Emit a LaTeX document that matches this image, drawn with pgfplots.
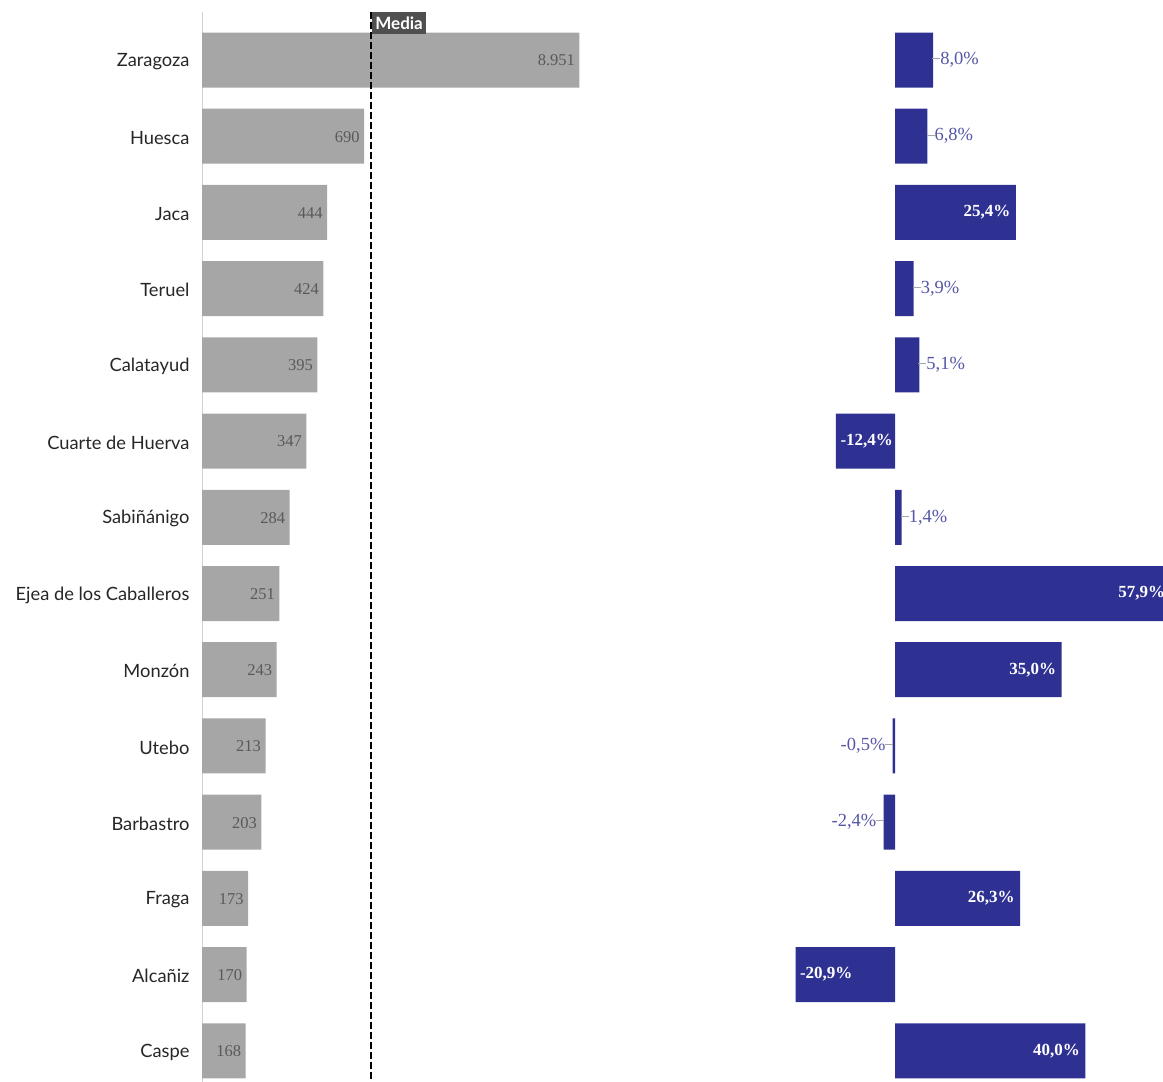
\documentclass[border=0pt]{standalone}
\usepackage{pgfplots}
\pgfplotsset{compat=1.18}
\usepackage{fontspec}
\setmainfont{Lato}
\newfontfamily\numfont{Liberation Serif}
\definecolor{bargray}{HTML}{A6A6A6}
\definecolor{barblue}{HTML}{2E3192}
\definecolor{lblblue}{HTML}{5656A8}
\definecolor{medbox}{HTML}{4F4F4F}
% short grey leader between small bars and their labels
\newcommand\lead{\textcolor{gray!70}{\rule[0.3em]{8pt}{0.9pt}}}

\begin{document}
\begin{tikzpicture}
\path[use as bounding box] (0,0) rectangle (1163pt,-1082pt);

% left panel: absolute numbers, log scale
\begin{axis}[
  at={(202pt,-12pt)}, anchor=north west,
  scale only axis, width=386.8pt, height=1070pt,
  xmode=log, log origin=infty, xmin=100, xmax=10000,
  ymin=-0.63, ymax=13.41, y dir=reverse,
  xbar, bar width=55pt, bar shift=0pt,
  axis x line=none, axis y line=left,
  y axis line style={-, draw=gray!35, line width=1pt},
  ytick={0,...,13}, major tick length=0pt,
  yticklabels={Zaragoza, Huesca, Jaca, Teruel, Calatayud, Cuarte de Huerva,
    Sabiñánigo, Ejea de los Caballeros, Monzón, Utebo, Barbastro, Fraga,
    Alcañiz, Caspe},
  yticklabel style={font=\fontsize{18.3}{21}\selectfont, text=black!85,
    xshift=-9pt, yshift=-1.5pt},
  clip mode=individual,
  point meta=explicit symbolic,
  nodes near coords,
  nodes near coords style={anchor=east, xshift=-1pt, yshift=-0.5pt,
    font=\numfont\fontsize{16.5}{18}\selectfont, text=black!65},
]
\addplot[draw=none, fill=bargray] coordinates {
  (8951,0) [8.951] (690,1) [690] (444,2) [444] (424,3) [424] (395,4) [395]
  (347,5) [347] (284,6) [284] (251,7) [251] (243,8) [243] (213,9) [213]
  (203,10) [203] (173,11) [173] (170,12) [170] (168,13) [168]};
% media reference line
\draw[black, line width=1.8pt, dash pattern=on 7pt off 3pt]
  (axis cs:745,-0.63) -- (axis cs:745,13.41);
\node[fill=medbox, text=white, anchor=north west, inner xsep=3.5pt, inner ysep=4.5pt,
  xshift=1pt, font=\bfseries\fontsize{17}{19}\selectfont]
  at (axis cs:745,-0.63) {Media};
\end{axis}

% right panel: variation in %
\begin{axis}[
  at={(776pt,-12pt)}, anchor=north west,
  scale only axis, width=394.6pt, height=1070pt,
  xmin=-25, xmax=57.9,
  ymin=-0.63, ymax=13.41, y dir=reverse,
  xbar, bar width=55pt, bar shift=0pt,
  hide axis, clip=false,
  point meta=explicit symbolic,
  nodes near coords,
]
% big positive: white label inside, right end
\addplot[draw=none, fill=barblue, nodes near coords style={anchor=east, xshift=-2pt,
    font=\numfont\bfseries\fontsize{17}{19}\selectfont, text=white}] coordinates {
  (25.4,2) [25,4\%] (57.9,7) [57,9\%] (35.0,8) [35,0\%] (26.3,11) [26,3\%] (40.0,13) [40,0\%]};
% big negative: white label inside, left end
\addplot[draw=none, fill=barblue, nodes near coords style={anchor=west, xshift=1pt,
    font=\numfont\bfseries\fontsize{17}{19}\selectfont, text=white}] coordinates {
  (-12.4,5) [-12,4\%] (-20.9,12) [-20,9\%]};
% small positive: blue label outside with leader
\addplot[draw=none, fill=barblue, nodes near coords style={anchor=west, xshift=-1pt, inner sep=0pt,
    font=\numfont\fontsize{18.5}{20}\selectfont, text=lblblue}] coordinates {
  (8.0,0) [\lead8,0\%] (6.8,1) [\lead6,8\%] (3.9,3) [\lead3,9\%] (5.1,4) [\lead5,1\%] (1.4,6) [\lead1,4\%]};
% small negative: blue label outside with leader
\addplot[draw=none, fill=barblue, nodes near coords style={anchor=east, xshift=1pt, inner sep=0pt,
    font=\numfont\fontsize{18.5}{20}\selectfont, text=lblblue}] coordinates {
  (-0.5,9) [-0,5\%\lead] (-2.4,10) [-2,4\%\lead]};
\end{axis}
\end{tikzpicture}
\end{document}
